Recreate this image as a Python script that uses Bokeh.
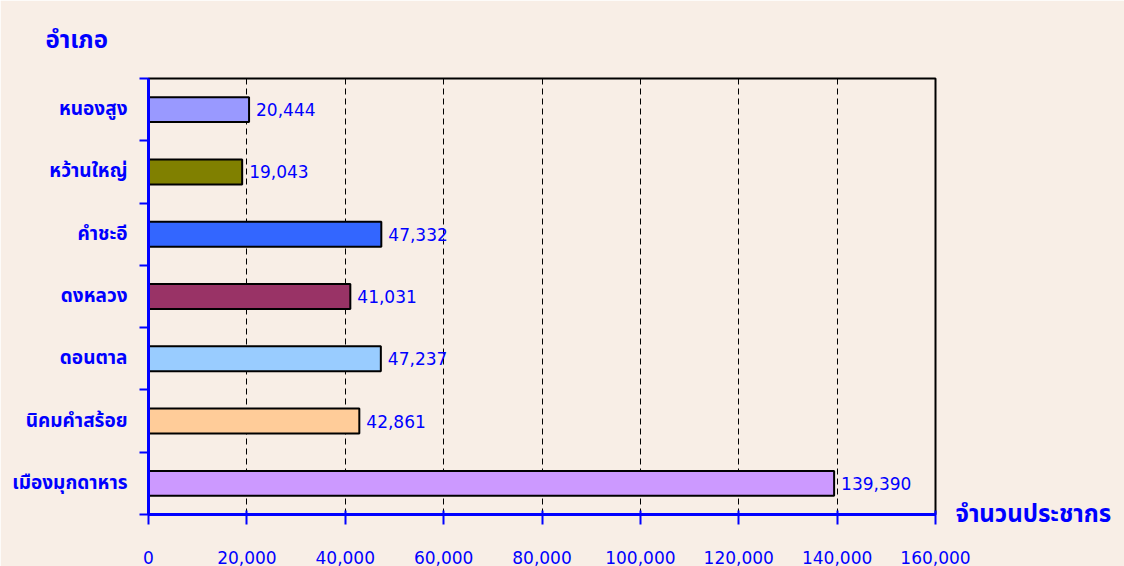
from bokeh.plotting import figure
from bokeh.models import FixedTicker, ColumnDataSource, LinearAxis, Range1d
from bokeh.embed import file_html
from bokeh.resources import INLINE
from bokeh.core.properties import value

# data (bottom to top)
districts = ["เมืองมุกดาหาร", "นิคมคำสร้อย", "ดอนตาล", "ดงหลวง", "คำชะอี", "หว้านใหญ่", "หนองสูง"]
population = [139390, 42861, 47237, 41031, 47332, 19043, 20444]
colors = ["#CC99FF", "#FFCC99", "#99CCFF", "#993366", "#3366FF", "#808000", "#9999FF"]
x_ticks = [0, 20000, 40000, 60000, 80000, 100000, 120000, 140000, 160000]
title_text = "อำเภอ"
xlabel_text = "จำนวนประชากร"

BG = "#F8EEE6"
BLUE = "#0000FF"
THAI = "Tahoma, 'Noto Sans Thai', 'DejaVu Sans', sans-serif"
NUM = "Tahoma, 'DejaVu Sans', sans-serif"
N = len(districts)

pos = [i + 0.5 for i in range(N)]
src = ColumnDataSource(dict(y=pos, v=population, c=colors,
                            lab=["{:,}".format(v) for v in population]))

p = figure(width=1124, height=566, output_backend="svg", toolbar_location=None,
           x_range=Range1d(0, x_ticks[-1]), y_range=Range1d(0, N),
           x_axis_location=None, y_axis_location=None,
           min_border_left=148, min_border_right=189, min_border_top=77, min_border_bottom=52,
           background_fill_color=BG, border_fill_color=BG)
p.outline_line_color = "black"
p.outline_line_width = 2

p.xgrid.ticker = FixedTicker(ticks=x_ticks[1:-1])
p.xgrid.grid_line_color = "black"
p.xgrid.grid_line_dash = "6 4"
p.xgrid.grid_line_width = 1
p.ygrid.grid_line_color = None

p.hbar(y="y", right="v", left=0, height=0.4, fill_color="c", line_color="black",
       line_width=2, source=src)
p.text(x="v", y="y", text="lab", source=src, x_offset=7, text_baseline="middle",
       text_align="left", text_color=BLUE, text_font_size="17px", text_font=value(NUM))

# x axis
xa = LinearAxis(ticker=FixedTicker(ticks=x_ticks))
xa.major_label_overrides = {t: "{:,}".format(t) for t in x_ticks}
xa.axis_line_color = BLUE
xa.axis_line_width = 3
xa.major_tick_line_color = BLUE
xa.major_tick_line_width = 2
xa.major_tick_in = 4
xa.major_tick_out = 10
xa.minor_tick_line_color = None
xa.major_label_standoff = 26
xa.major_label_text_color = BLUE
xa.major_label_text_font = NUM
xa.major_label_text_font_size = "17px"
p.add_layout(xa, "below")

# y axis
ya = LinearAxis(ticker=FixedTicker(ticks=pos, minor_ticks=list(range(N + 1))))
ya.major_label_overrides = {pp: d for pp, d in zip(pos, districts)}
ya.axis_line_color = BLUE
ya.axis_line_width = 3
ya.major_tick_line_color = None
ya.major_tick_in = 0
ya.major_tick_out = 0
ya.minor_tick_line_color = BLUE
ya.minor_tick_line_width = 2
ya.minor_tick_in = 0
ya.minor_tick_out = 9
ya.major_label_standoff = 12
ya.major_label_text_color = BLUE
ya.major_label_text_font = THAI
ya.major_label_text_font_style = "bold"
ya.major_label_text_font_size = "19px"
p.add_layout(ya, "left")

# value-axis name, to the right of the axis end (carried by a bare right axis)
ra = LinearAxis(ticker=FixedTicker(ticks=[0], minor_ticks=[]))
ra.major_label_overrides = {0: xlabel_text}
ra.axis_line_color = None
ra.major_tick_line_color = None
ra.major_tick_in = 0
ra.major_tick_out = 0
ra.minor_tick_line_color = None
ra.major_label_standoff = 20
ra.major_label_text_color = BLUE
ra.major_label_text_font = THAI
ra.major_label_text_font_style = "bold"
ra.major_label_text_font_size = "24px"
p.add_layout(ra, "right")

# category-axis name
p.title.text = title_text
p.title.align = "left"
p.title.offset = -103
p.title.standoff = 40
p.title.text_color = BLUE
p.title.text_font = THAI
p.title.text_font_style = "bold"
p.title.text_font_size = "24px"

open("out.html", "w").write(file_html(p, INLINE))
